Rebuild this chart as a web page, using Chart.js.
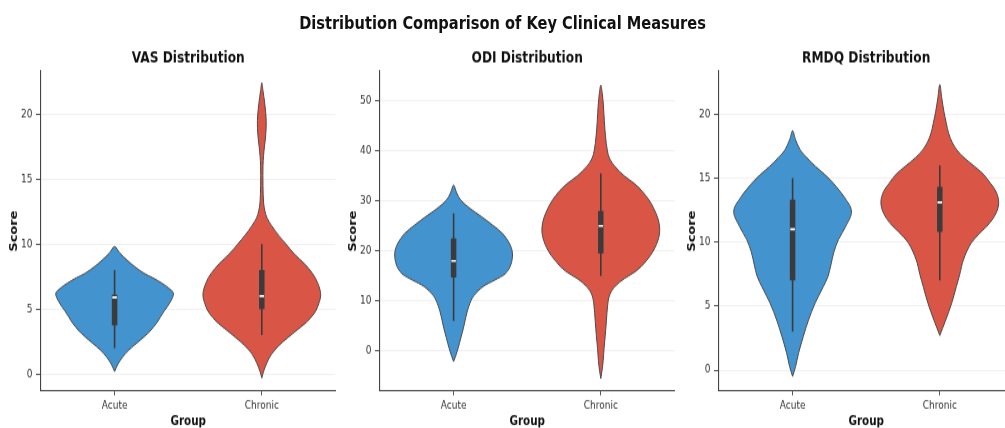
<!DOCTYPE html>
<html>
<head>
<meta charset="utf-8">
<script src="https://cdn.jsdelivr.net/npm/chart.js@4.4.1/dist/chart.umd.min.js"></script>
<style>
html,body{margin:0;padding:0;background:#fff;overflow:hidden;width:1005px;height:428px;}
#stage{position:absolute;left:0;top:0;width:1020px;height:344px;transform:scaleY(1.25);transform-origin:0 0;}
#title{position:absolute;left:0;width:1005px;top:8.6px;text-align:center;font-family:'DejaVu Sans',sans-serif;font-weight:bold;font-size:14.6px;line-height:18px;color:#111;}
.pane{position:absolute;top:0;width:340px;height:344px;}
canvas{display:block;}
</style>
</head>
<body>
<div id="stage">
  <div id="title">Distribution Comparison of Key Clinical Measures</div>
  <div class="pane" style="left:1px"><canvas id="c0" width="340" height="344" style="width:340px;height:344px"></canvas></div>
  <div class="pane" style="left:340px"><canvas id="c1" width="340" height="344" style="width:340px;height:344px"></canvas></div>
  <div class="pane" style="left:679px"><canvas id="c2" width="340" height="344" style="width:340px;height:344px"></canvas></div>
</div>
<script>
// ---------- data ----------
const groups = ['Acute', 'Chronic'];
const groupPos = [0, 1];
const panelTitles = ['VAS Distribution', 'ODI Distribution', 'RMDQ Distribution'];
const yLabel = 'Score';
const xLabel = 'Group';

const vasTicks = [0, 5, 10, 15, 20];
const odiTicks = [0, 10, 20, 30, 40, 50];
const rmdqTicks = [0, 5, 10, 15, 20];

const vasRange = [-1.3, 23.3];
const odiRange = [-8, 56];
const rmdqRange = [-1.64, 23.36];

// violin outlines: score levels and relative density (1 = widest)
const vasAcuteY = [0.2, 0.8, 1.33, 1.85, 2.4, 2.87, 3.4, 3.9, 4.4, 4.9, 5.5, 6.2, 6.6, 7.0, 7.4, 7.75, 8.3, 8.77, 9.3, 9.8];
const vasAcuteD = [0, 0.06, 0.14, 0.24, 0.38, 0.5, 0.62, 0.71, 0.78, 0.85, 0.94, 1.0, 0.92, 0.8, 0.65, 0.5, 0.33, 0.21, 0.09, 0];
const vasChronicY = [-0.3, 0.2, 0.8, 1.5, 2.2, 2.8, 3.4, 4.0, 4.67, 5.2, 6.1, 7.0, 7.75, 8.5, 9.2, 10.0, 10.7, 11.4, 12.0, 12.6, 13.2, 14.5, 16.0, 16.8, 17.5, 18.3, 19.5, 20.8, 21.8, 22.4];
const vasChronicD = [0, 0.03, 0.08, 0.16, 0.29, 0.44, 0.6, 0.76, 0.89, 0.95, 1.0, 0.95, 0.86, 0.72, 0.56, 0.41, 0.28, 0.17, 0.09, 0.05, 0.03, 0.02, 0.02, 0.03, 0.045, 0.065, 0.075, 0.05, 0.02, 0];

const odiAcuteY = [-2.1, -1, 0.5, 2.5, 4.5, 6.9, 9, 11, 12.9, 14.2, 15.5, 17.2, 19.5, 21.5, 23.5, 25.2, 26.9, 28.5, 30.2, 31.7, 33.2];
const odiAcuteD = [0, 0.035, 0.075, 0.12, 0.165, 0.21, 0.26, 0.34, 0.5, 0.7, 0.88, 0.97, 1.0, 0.95, 0.83, 0.66, 0.47, 0.28, 0.12, 0.05, 0];
const odiChronicY = [-5.5, -4, -2, 0.5, 3, 6, 9, 11.2, 12.9, 14.5, 16, 18, 20.2, 22.5, 24.5, 26.5, 28.5, 30.2, 32, 33.5, 35, 36.9, 38.5, 40.2, 43, 46, 49, 51.5, 53.2];
const odiChronicD = [0, 0.02, 0.04, 0.055, 0.075, 0.095, 0.115, 0.15, 0.24, 0.4, 0.6, 0.77, 0.9, 0.98, 1.0, 0.97, 0.9, 0.82, 0.7, 0.57, 0.4, 0.24, 0.15, 0.11, 0.08, 0.06, 0.045, 0.025, 0];

const rmdqAcuteY = [-0.5, 0.26, 1.3, 2.6, 3.9, 5.2, 6.5, 7.3, 8.2, 9.2, 10.2, 11.2, 12.4, 13.5, 14.6, 15.3, 15.9, 16.6, 17.2, 18, 18.7];
const rmdqAcuteD = [0, 0.05, 0.1, 0.18, 0.27, 0.38, 0.52, 0.6, 0.65, 0.7, 0.78, 0.9, 1.0, 0.88, 0.69, 0.54, 0.39, 0.24, 0.13, 0.05, 0];
const rmdqChronicY = [2.7, 3.3, 3.9, 5.2, 6.5, 7.5, 8.6, 9.9, 10.8, 11.5, 12.3, 13.1, 13.9, 14.6, 15.3, 15.9, 16.6, 17.2, 17.8, 18.5, 19.3, 20.2, 21.2, 22.3];
const rmdqChronicD = [0, 0.05, 0.1, 0.2, 0.28, 0.34, 0.4, 0.53, 0.7, 0.85, 0.96, 1.0, 0.96, 0.86, 0.74, 0.59, 0.41, 0.29, 0.21, 0.15, 0.11, 0.07, 0.035, 0];

// inner box: [whisker low, Q1, median, Q3, whisker high]
const vasAcuteBox = [2, 3.75, 5.9, 6.1, 8];
const vasChronicBox = [3, 5, 6, 8, 10];
const odiAcuteBox = [6, 14.7, 18, 22.5, 27.5];
const odiChronicBox = [15, 19.5, 25, 28, 35.5];
const rmdqAcuteBox = [3, 7, 11, 13.3, 15];
const rmdqChronicBox = [7, 10.8, 13.1, 14.3, 16];

// ---------- styling ----------
const fillColors = ['#4393cf', '#d95646'];
const HALF = 0.4;
Chart.defaults.font.family = "'DejaVu Sans', sans-serif";
Chart.defaults.color = '#333';

const panels = [
  { id: 'c0', title: panelTitles[0], ticks: vasTicks, range: vasRange,
    violins: [[vasAcuteY, vasAcuteD], [vasChronicY, vasChronicD]], boxes: [vasAcuteBox, vasChronicBox] },
  { id: 'c1', title: panelTitles[1], ticks: odiTicks, range: odiRange,
    violins: [[odiAcuteY, odiAcuteD], [odiChronicY, odiChronicD]], boxes: [odiAcuteBox, odiChronicBox] },
  { id: 'c2', title: panelTitles[2], ticks: rmdqTicks, range: rmdqRange,
    violins: [[rmdqAcuteY, rmdqAcuteD], [rmdqChronicY, rmdqChronicD]], boxes: [rmdqAcuteBox, rmdqChronicBox] }
];

function outline(c, ys, ds) {
  const pts = [];
  for (let i = 0; i < ys.length; i++) pts.push({ x: c + HALF * ds[i], y: ys[i] });
  for (let i = ys.length - 2; i >= 0; i--) pts.push({ x: c - HALF * ds[i], y: ys[i] });
  return pts;
}

const CANVAS_H = 344;
const AREA_BOTTOM = 312.8;

panels.forEach(p => {
  const datasets = [];
  groupPos.forEach((c, g) => {
    const [ys, ds] = p.violins[g];
    const b = p.boxes[g];
    datasets.push({
      data: outline(c, ys, ds), showLine: true, fill: 'shape',
      backgroundColor: fillColors[g], borderColor: '#4a4a4a', borderWidth: 1,
      pointRadius: 0, tension: 0.35, order: 3
    });
    datasets.push({
      data: [{ x: c, y: b[0] }, { x: c, y: b[4] }], showLine: true, fill: false,
      borderColor: '#3b3b3b', borderWidth: 1.6, pointRadius: 0, order: 2
    });
    datasets.push({
      data: [{ x: c, y: b[1] }, { x: c, y: b[3] }], showLine: true, fill: false,
      borderColor: '#3b3b3b', borderWidth: 5.5, borderCapStyle: 'butt', pointRadius: 0, order: 1
    });
    datasets.push({
      data: [{ x: c, y: b[2] }], showLine: false,
      pointStyle: 'line', pointRadius: 2.3, pointBorderColor: '#ffffff', pointBorderWidth: 1.6,
      pointBackgroundColor: '#ffffff', order: 0
    });
  });

  new Chart(document.getElementById(p.id), {
    type: 'scatter',
    data: { datasets },
    options: {
      responsive: false,
      animation: false,
      events: [],
      layout: { padding: { top: 30, right: 4, left: 0, bottom: 0 } },
      plugins: {
        legend: { display: false },
        tooltip: { enabled: false },
        title: {
          display: true, text: p.title, fullSize: false, color: '#111',
          font: { size: 12.2, weight: 'bold' }, padding: { top: 9.1, bottom: 3.1 }
        }
      },
      scales: {
        x: {
          type: 'linear', min: -0.5, max: 1.5,
          afterBuildTicks: s => { s.ticks = groupPos.map(v => ({ value: v })); },
          afterFit: s => { s.height = CANVAS_H - AREA_BOTTOM; },
          ticks: { callback: (v, i) => groups[i], font: { size: 9 }, color: '#333', padding: 3, maxRotation: 0, autoSkip: false },
          grid: { drawOnChartArea: false, drawTicks: true, tickLength: 3.5, tickColor: '#555', tickWidth: 1 },
          border: { display: true, color: '#444', width: 1.1 },
          title: { display: true, text: xLabel, color: '#111', font: { size: 10.4, weight: 'bold' }, padding: { top: 0, bottom: 0 } }
        },
        y: {
          type: 'linear', min: p.range[0], max: p.range[1],
          afterBuildTicks: s => { s.ticks = p.ticks.map(v => ({ value: v })); },
          afterFit: s => { s.width = 40; },
          ticks: { callback: v => String(v), font: { size: 9 }, color: '#333', padding: 3.5 },
          grid: { color: '#ececec', lineWidth: 0.8, drawTicks: true, tickLength: 5, tickColor: '#555', tickWidth: 1 },
          border: { display: true, color: '#444', width: 1.1 },
          title: { display: true, text: yLabel, color: '#111', font: { size: 10.4, weight: 'bold' }, padding: { top: 6.8, bottom: 0 } }
        }
      }
    }
  });
});
</script>
</body>
</html>
